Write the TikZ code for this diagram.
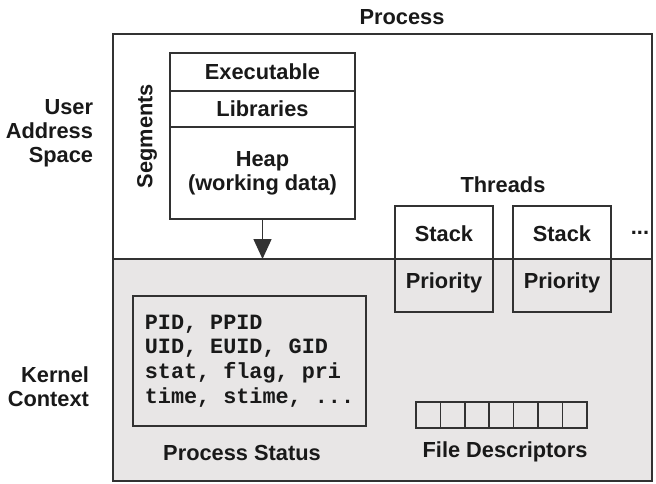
\documentclass[tikz,border=0pt]{standalone}
\usepackage{fontspec}
\setmainfont{Liberation Sans}
\setmonofont{Liberation Mono}
\usetikzlibrary{arrows.meta, positioning, calc}
\definecolor{kernelgray}{RGB}{232,230,230}
\definecolor{linegray}{RGB}{50,50,50}

\begin{document}
\begin{tikzpicture}[x=0.5pt, y=-0.5pt,
    every node/.style={font=\bfseries\fontsize{10.9}{12}\selectfont, text=black!90, inner sep=0pt, outer sep=0pt},
    seg_node/.style={rectangle, draw=linegray, line width=0.75pt, fill=white, minimum width=92.5pt, align=center},
    thread_node/.style={rectangle, draw=linegray, line width=0.75pt, minimum width=49pt, minimum height=53pt},
    fd_cell/.style={rectangle, draw=linegray, line width=0.75pt, minimum width=12.2pt, minimum height=13pt},
    side_label/.style={anchor=east, align=right},
    ]
    \useasboundingbox (0,0) rectangle (656,483);

    % Process frame, kernel part shaded
    \coordinate (divL) at (113,259);
    \coordinate (divR) at (652,259);
    \fill[white] (113,34) rectangle (652,481);
    \fill[kernelgray] (divL) rectangle (652,481);
    \draw[linegray, line width=1pt] (113,34) rectangle (652,481);
    \draw[linegray, line width=1pt] (divL) -- (divR);

    % Labels
    \node (proc) at (402,17) {Process};
    \node[side_label] (user) at (93,133) {User\\Address\\Space};
    \node[side_label] (kern) at (89,387) {Kernel\\Context};

    % Segments
    \node[seg_node, minimum height=19pt] (exe) at (262.5,72) {Executable};
    \node[seg_node, minimum height=18pt] (lib) [below=0pt of exe] {Libraries};
    \node[seg_node, minimum height=46pt] (heap) [below=0pt of lib] {Heap\\(working data)};
    \node[rotate=90] (seg) at (147,136) {Segments};
    \draw[linegray, line width=0.75pt, -{Triangle[length=10pt, width=9pt]}] (heap.south) -- (heap.south |- divL);

    % Threads
    \node (thr) at (503,185) {Threads};
    \node[thread_node] (thrA) at (444,259) {};
    \node[thread_node] (thrB) at (562,259) {};
    \node (stackA) at (444,234) {Stack};
    \node (prioA) at (444,283) {Priority};
    \node (stackB) at (562,234) {Stack};
    \node (prioB) at (562,283) {Priority};
    \node (more) at (640,233) {...};

    % Process status
    \node[rectangle, draw=linegray, line width=0.75pt, minimum width=116.5pt, minimum height=65pt, align=left,
        font=\ttfamily\bfseries\fontsize{10.9}{12.4}\selectfont] (pstat) at (249.5,361)
        {PID, PPID\\UID, EUID, GID\\stat, flag, pri\\time, stime, ...};
    \node (pstatlbl) at (242,453) {Process Status};

    % File descriptors
    \foreach \i in {0,...,6}
        \node[fd_cell] (fd\i) at (428.2+24.4*\i,415) {};
    \node (fdlbl) at (505,452) {File Descriptors};
\end{tikzpicture}
\end{document}
